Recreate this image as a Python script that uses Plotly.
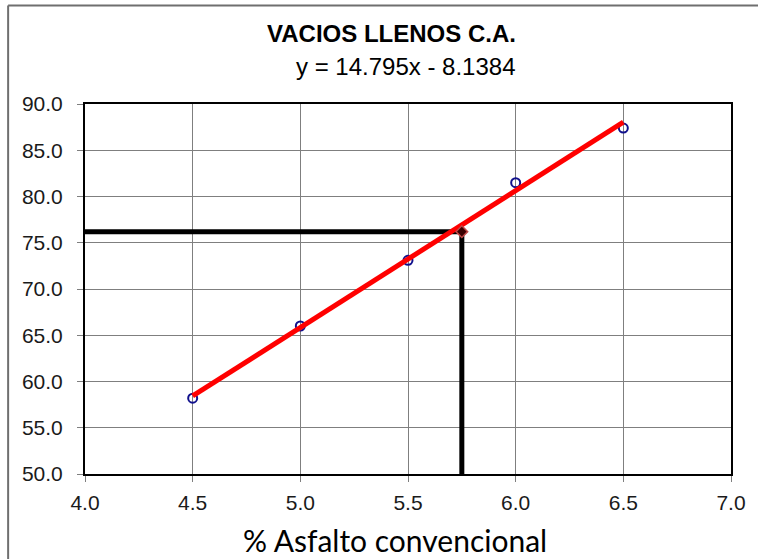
import plotly.graph_objects as go

# Data
asfalto = [4.5, 5.0, 5.5, 6.0, 6.5]
vacios_llenos = [58.2, 66.0, 73.1, 81.5, 87.4]
slope = 14.795
intercept = -8.1384
design_x = 5.75
design_y = 76.2
x_ticks = [4.0, 4.5, 5.0, 5.5, 6.0, 6.5, 7.0]
y_ticks = [50, 55, 60, 65, 70, 75, 80, 85, 90]

trend_x = [asfalto[0], asfalto[-1]]
trend_y = [slope * v + intercept for v in trend_x]

fig = go.Figure()

# design reference lines
fig.add_trace(go.Scatter(x=[4.0, design_x, design_x], y=[design_y, design_y, 50],
                         mode="lines", line=dict(color="black", width=5),
                         hoverinfo="skip", showlegend=False))
# data points
fig.add_trace(go.Scatter(x=asfalto, y=vacios_llenos, mode="markers",
                         marker=dict(symbol="circle-open", size=9, color="#10108c",
                                     line=dict(width=2, color="#10108c")),
                         showlegend=False))
# trend line
fig.add_trace(go.Scatter(x=trend_x, y=trend_y, mode="lines",
                         line=dict(color="#ff0000", width=5), showlegend=False))
# design point
fig.add_trace(go.Scatter(x=[design_x], y=[design_y], mode="markers",
                         marker=dict(symbol="diamond", size=9, color="#3a0000",
                                     line=dict(width=1.5, color="#c04848")),
                         showlegend=False))

axis_common = dict(showgrid=True, gridcolor="#7f7f7f", gridwidth=1,
                   zeroline=False, showline=True, linecolor="black", linewidth=2,
                   mirror=True, ticks="outside", ticklen=6, tickcolor="#7f7f7f",
                   tickfont=dict(family="Liberation Sans, Arial", size=21, color="#1a1a1a"))

fig.update_xaxes(range=[4.0, 7.0], tickvals=x_ticks, tickformat=".1f",
                 ticklabelstandoff=3, **axis_common)
fig.update_yaxes(range=[50, 90], tickvals=y_ticks, tickformat=".1f",
                 ticklabelstandoff=10, **axis_common)

fig.update_layout(
    width=758, height=559,
    margin=dict(l=85, r=24, t=104, b=85),
    plot_bgcolor="white", paper_bgcolor="white",
    annotations=[
        dict(text="<b>VACIOS LLENOS C.A.</b>", xref="paper", yref="paper",
             x=0.475, y=1.19, xanchor="center", yanchor="middle", showarrow=False,
             font=dict(family="Liberation Sans, Arial", size=24, color="black")),
        dict(text="y = 14.795x - 8.1384", xref="paper", yref="paper",
             x=0.497, y=1.1, xanchor="center", yanchor="middle", showarrow=False,
             font=dict(family="Liberation Sans, Arial", size=24, color="black")),
        dict(text="% Asfalto convencional", xref="paper", yref="paper",
             x=0.48, y=-0.178, xanchor="center", yanchor="middle", showarrow=False,
             font=dict(family="Lato, Open Sans", size=30, color="black")),
    ],
    shapes=[
        dict(type="line", xref="paper", yref="paper", x0=-0.119, x1=1.1, y0=1.266, y1=1.266,
             line=dict(color="#6f6f6f", width=2)),
        dict(type="line", xref="paper", yref="paper", x0=-0.119, x1=-0.119, y0=1.266, y1=-0.3,
             line=dict(color="#6f6f6f", width=2)),
    ],
)

fig.write_html("out.html")
